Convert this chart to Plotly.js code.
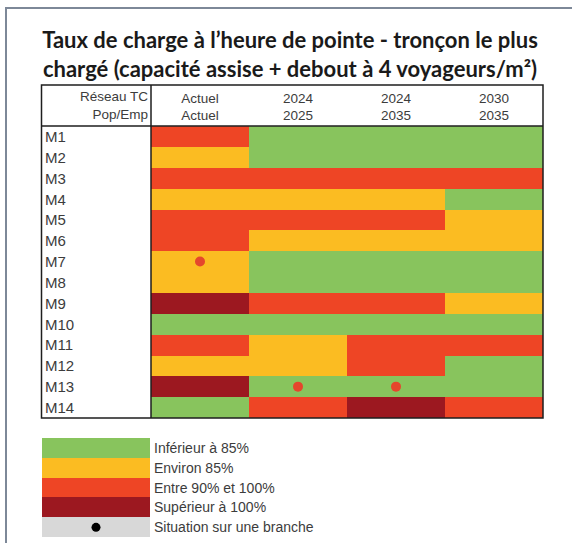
<!DOCTYPE html>
<html>
<head>
<meta charset="utf-8">
<script src="https://cdn.plot.ly/plotly-3.0.1.min.js"></script>
<style>html,body{margin:0;padding:0;background:#fff;}#chart{width:572px;height:543px;}</style>
</head>
<body>
<div id="chart"></div>
<script>
// ---- DATA ----
const lines = ['M1','M2','M3','M4','M5','M6','M7','M8','M9','M10','M11','M12','M13','M14'];
const reseauTC = ['Actuel','2024','2024','2030'];
const popEmp   = ['Actuel','2025','2035','2035'];
// load class: 0 = < 85%, 1 = ~85%, 2 = 90-100%, 3 = > 100%
const actuel    = [2,1,2,1,2,2,1,1,3,0,2,1,3,0];
const tc2024_25 = [0,0,2,1,2,1,0,0,2,0,1,1,0,2];
const tc2024_35 = [0,0,2,1,2,1,0,0,2,0,2,2,0,3];
const tc2030_35 = [0,0,2,0,1,1,0,0,1,0,2,0,0,2];
// situation on a branch (dots)
const branchLine   = ['M7','M13','M13'];
const branchPeriod = [0,1,2];
// legend
const legendLabels = ['Inférieur à 85%','Environ 85%','Entre 90% et 100%','Supérieur à 100%','Situation sur une branche'];
const legendCodes  = [0,1,2,3,4];
const title1 = 'Taux de charge à l’heure de pointe - tronçon le plus';
const title2 = 'chargé (capacité assise + debout à 4 voyageurs/m²)';

// ---- BUILD ----
const W = 572, H = 543;
const px = v => v / W;
const py = v => 1 - v / H;
const cols = reseauTC.map((r, i) => r + '<br>' + popEmp[i]);
const series = [actuel, tc2024_25, tc2024_35, tc2030_35];
const z = lines.map((_, r) => series.map(s => s[r]));

const G = '#88c45d', Y = '#fbbc22', R = '#ee4525', D = '#9c1820', GR = '#d8d8d8';
const cs = [[0,G],[0.2,G],[0.2,Y],[0.4,Y],[0.4,R],[0.6,R],[0.6,D],[0.8,D],[0.8,GR],[1,GR]];

const txtFont = {family: 'Liberation Sans, Arial, sans-serif', size: 13.5, color: '#3c3c3c'};

const traces = [
  {type:'heatmap', x: cols, y: lines, z: z, colorscale: cs, zmin:-0.5, zmax:4.5,
   showscale:false, hoverinfo:'skip', xaxis:'x', yaxis:'y'},
  {type:'scatter', mode:'markers', x: branchPeriod.map(i => cols[i]), y: branchLine,
   marker:{color:'#e5462c', size:10}, hoverinfo:'skip', xaxis:'x', yaxis:'y'},
  {type:'heatmap', x:['k'], y: legendLabels, z: legendCodes.map(c => [c]), colorscale: cs,
   zmin:-0.5, zmax:4.5, showscale:false, hoverinfo:'skip', xaxis:'x2', yaxis:'y2'},
  {type:'scatter', mode:'markers', x:['k'], y:[legendLabels[4]],
   marker:{color:'#000', size:9}, hoverinfo:'skip', xaxis:'x2', yaxis:'y2'}
];

const ann = lines.map(l => ({
  xref:'paper', yref:'y', x: px(43), y: l, xanchor:'left', yanchor:'middle',
  text: l, showarrow:false, font:{family:'Liberation Sans, Arial, sans-serif', size:15, color:'#3c3c3c'}
}));
ann.push({xref:'paper', yref:'paper', x: px(149.5), y: py(106), xanchor:'right', yanchor:'middle',
  align:'right', text:'Réseau TC<br>Pop/Emp', showarrow:false, font: txtFont});

const bl = {color:'#1e1e1e', width:1.5};
const shapes = [
  {type:'rect', xref:'paper', yref:'paper', x0:px(6), x1:1.05, y0:-0.05, y1:py(8),
   line:{color:'#7d8898', width:2}, fillcolor:'rgba(0,0,0,0)', layer:'below'},
  {type:'rect', xref:'paper', yref:'paper', x0:px(41.5), x1:px(543), y0:py(418), y1:py(85), line:bl},
  {type:'line', xref:'paper', yref:'paper', x0:px(151), x1:px(151), y0:py(418), y1:py(85), line:bl},
  {type:'line', xref:'paper', yref:'paper', x0:px(41.5), x1:px(543), y0:py(126), y1:py(126), line:bl}
];

const layout = {
  width: W, height: H,
  margin:{l:0, r:0, t:0, b:0},
  paper_bgcolor:'#fff', plot_bgcolor:'#fff',
  showlegend:false,
  title:{text: title1 + '<br>' + title2, x: 0.507, xanchor:'center', y: py(24), yanchor:'top',
         font:{family:'Lato, sans-serif', size:22, color:'#1a1a1a', weight:'bold'}},
  xaxis:{domain:[px(151), px(543)], side:'top', anchor:'y', type:'category',
         ticks:'', showgrid:false, zeroline:false, showline:false, tickfont: txtFont, ticklabelstandoff:2},
  yaxis:{domain:[py(418), py(126)], anchor:'x', type:'category', autorange:'reversed',
         showticklabels:false, ticks:'', showgrid:false, zeroline:false},
  xaxis2:{domain:[px(42), px(150)], anchor:'y2', visible:false, type:'category'},
  yaxis2:{domain:[py(538), py(438)], anchor:'x2', side:'right', type:'category', autorange:'reversed',
          ticks:'', showgrid:false, zeroline:false, showline:false, tickfont:{family:'Liberation Sans, Arial, sans-serif', size:14, color:'#3c3c3c'}, ticklabelstandoff:3},
  annotations: ann,
  shapes: shapes
};

Plotly.newPlot('chart', traces, layout, {staticPlot:true, displayModeBar:false}).then(gd => {
  // keep the title where the reference draws it
  const t = gd.querySelector('.gtitle');
  if (t) {
    const bb = t.getBBox();
    t.setAttribute('transform', 'translate(0,' + (26 - bb.y) + ')');
  }
});
</script>
</body>
</html>
